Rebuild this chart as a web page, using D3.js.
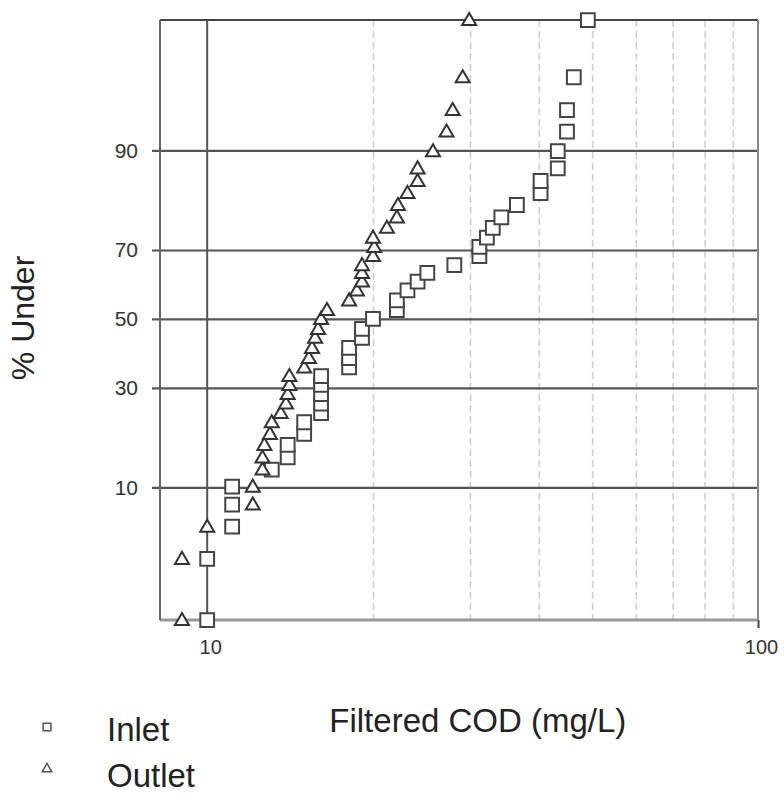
<!DOCTYPE html>
<html>
<head>
<meta charset="utf-8">
<script src="https://cdn.jsdelivr.net/npm/d3@7"></script>
<style>
  body { margin: 0; background: #fff; }
  text { font-family: "Liberation Sans", Arial, sans-serif; fill: #222; }
</style>
</head>
<body>
<div id="chart"></div>
<script>

// % under for each ranked sample (same ranks for both series)
var pctUnder = [1.1, 3.4, 5.7, 7.9, 10.1, 12.6, 14.6, 16.9, 19.1, 21.6,
  23.7, 26.0, 28.4, 30.8, 33.2, 35.6, 38.3, 41.3, 44.3, 47.0,
  50.0, 52.7, 55.6, 58.6, 61.2, 63.7, 65.9, 68.4, 70.8, 73.2,
  75.6, 78.0, 80.7, 83.1, 85.3, 87.4, 89.9, 92.3, 94.4, 96.7, 98.85];

// filtered COD (mg/L), sorted
var inletCOD = [10, 10, 11.1, 11.1, 11.1, 13.1, 14, 14, 15, 15,
  16.1, 16.1, 16.1, 16.1, 16.1, 18.1, 18.1, 18.1, 19.1, 19.1,
  20, 22.1, 22.1, 23.1, 24.1, 25.1, 28.1, 31.2, 31.2, 32.2,
  33, 34.2, 36.5, 40.3, 40.3, 43.3, 43.3, 45, 45, 46.3, 49.1];
var outletCOD = [9, 9, 10, 12.1, 12.1, 12.6, 12.6, 12.7, 13, 13.1,
  13.6, 13.9, 14, 14.1, 14.1, 15, 15.3, 15.5, 15.7, 15.9,
  16.1, 16.5, 18.1, 18.7, 19.1, 19.1, 19.1, 20, 20.1, 20,
  21.2, 22.1, 22.2, 23.1, 24.1, 24.1, 25.7, 27.2, 27.9, 29.1, 29.9];

var yTicks = [10, 30, 50, 70, 90];
var xTicks = [10, 100];
var xMinor = [20, 30, 40, 50, 60, 70, 80, 90];

// set the dimensions and margins of the graph
var margin = {top: 20, right: 26, bottom: 184, left: 160},
    width = 784 - margin.left - margin.right,
    height = 804 - margin.top - margin.bottom;

// inverse normal cdf (Acklam) for the probability axis
function probit(p) {
  var a = [-39.69683028665376, 220.9460984245205, -275.9285104469687, 138.3577518672690, -30.66479806614716, 2.506628277459239];
  var b = [-54.47609879822406, 161.5858368580409, -155.6989798598866, 66.80131188771972, -13.28068155288572];
  var c = [-0.007784894002430293, -0.3223964580411365, -2.400758277161838, -2.549732539343734, 4.374664141464968, 2.938163982698783];
  var d = [0.007784695709041462, 0.3224671290700398, 2.445134137142996, 3.754408661907416];
  var pl = 0.02425, q, r;
  if (p < pl) {
    q = Math.sqrt(-2 * Math.log(p));
    return (((((c[0]*q+c[1])*q+c[2])*q+c[3])*q+c[4])*q+c[5]) / ((((d[0]*q+d[1])*q+d[2])*q+d[3])*q+1);
  }
  if (p > 1 - pl) {
    q = Math.sqrt(-2 * Math.log(1 - p));
    return -(((((c[0]*q+c[1])*q+c[2])*q+c[3])*q+c[4])*q+c[5]) / ((((d[0]*q+d[1])*q+d[2])*q+d[3])*q+1);
  }
  q = p - 0.5; r = q * q;
  return (((((a[0]*r+a[1])*r+a[2])*r+a[3])*r+a[4])*r+a[5])*q / (((((b[0]*r+b[1])*r+b[2])*r+b[3])*r+b[4])*r+1);
}

var svg = d3.select("#chart")
  .append("svg")
    .attr("width", 784)
    .attr("height", 804)
  .append("g")
    .attr("transform", "translate(" + margin.left + "," + margin.top + ")");

// scales: log x, normal-probability y
var x = d3.scaleLog()
  .domain([8.21, 100])
  .range([0, width]);
var z = d3.scaleLinear()
  .domain([-2.29, 2.274])
  .range([height, 0]);
function yPos(p) { return z(probit(p / 100)); }

// light dashed vertical grid
svg.append("g")
  .call(d3.axisBottom(x).tickValues(xMinor).tickSize(height).tickFormat(""))
  .call(g => g.select(".domain").remove())
  .selectAll("line")
    .attr("stroke", "#cfcfcf")
    .attr("stroke-width", 1.6)
    .attr("stroke-dasharray", "7,4");

// horizontal grid + y ticks
var yAxis = svg.append("g")
  .attr("transform", "translate(" + width + ",0)")
  .call(d3.axisLeft(z)
    .tickValues(yTicks.map(p => probit(p / 100)))
    .tickSizeInner(-width - 8)
    .tickSizeOuter(0)
    .tickFormat((d, i) => yTicks[i]));
yAxis.select(".domain").remove();
yAxis.selectAll("line")
  .attr("x1", -width - 8)
  .attr("x2", 0)
  .attr("stroke", "#555")
  .attr("stroke-width", 2.2);
yAxis.selectAll("text")
  .attr("x", -width - 22)
  .style("font-size", "21px")
  .style("fill", "#333");

// x axis ticks and labels
var xAxis = svg.append("g")
  .attr("transform", "translate(0," + height + ")")
  .call(d3.axisBottom(x).tickValues(xTicks).tickSize(8).tickPadding(12).tickFormat(d3.format("d")));
xAxis.select(".domain").remove();
xAxis.selectAll("line").attr("stroke", "#444").attr("stroke-width", 2);
xAxis.selectAll("text")
  .attr("dx", 3)
  .style("font-size", "20px")
  .style("fill", "#333");

// solid vertical line at 10
svg.append("line")
  .attr("x1", x(10)).attr("x2", x(10))
  .attr("y1", 0).attr("y2", height)
  .attr("stroke", "#555")
  .attr("stroke-width", 2);

// plot frame
svg.append("line").attr("x1", 0).attr("x2", width).attr("y1", 0).attr("y2", 0)
  .attr("stroke", "#444").attr("stroke-width", 2);
svg.append("line").attr("x1", 0).attr("x2", width).attr("y1", height).attr("y2", height)
  .attr("stroke", "#999").attr("stroke-width", 3);
svg.append("line").attr("x1", 0).attr("x2", 0).attr("y1", 0).attr("y2", height)
  .attr("stroke", "#666").attr("stroke-width", 2);
svg.append("line").attr("x1", width).attr("x2", width).attr("y1", 0).attr("y2", height)
  .attr("stroke", "#888").attr("stroke-width", 2);

var square = d3.symbol().type(d3.symbolSquare).size(190);
var triangle = d3.symbol().type(d3.symbolTriangle).size(85);

// inlet squares
svg.append("g")
  .selectAll("path")
  .data(inletCOD)
  .enter()
  .append("path")
    .attr("d", square)
    .attr("transform", (d, i) => "translate(" + x(d) + "," + yPos(pctUnder[i]) + ")")
    .attr("fill", "#fff")
    .attr("stroke", "#444")
    .attr("stroke-width", 2);

// outlet triangles
svg.append("g")
  .selectAll("path")
  .data(outletCOD)
  .enter()
  .append("path")
    .attr("d", triangle)
    .attr("transform", (d, i) => "translate(" + x(d) + "," + (yPos(pctUnder[i]) + 1) + ")")
    .attr("fill", "#fff")
    .attr("stroke", "#333")
    .attr("stroke-width", 2);

// axis titles
svg.append("text")
  .attr("x", x(31))
  .attr("y", height + 112)
  .style("text-anchor", "middle")
  .style("font-size", "33px")
  .text("Filtered COD (mg/L)");

svg.append("text")
  .attr("transform", "translate(" + (-126) + "," + (yPos(50) - 1) + ") rotate(-90)")
  .style("text-anchor", "middle")
  .style("font-size", "32px")
  .text("% Under");

// legend
var legend = svg.append("g").attr("transform", "translate(" + (-margin.left) + "," + (-margin.top) + ")");
legend.append("path")
  .attr("d", d3.symbol().type(d3.symbolSquare).size(60))
  .attr("transform", "translate(47,727)")
  .attr("fill", "#fff").attr("stroke", "#555").attr("stroke-width", 1.5);
legend.append("path")
  .attr("d", d3.symbol().type(d3.symbolTriangle).size(40))
  .attr("transform", "translate(47,769)")
  .attr("fill", "#fff").attr("stroke", "#555").attr("stroke-width", 1.5);
legend.append("text").attr("x", 107).attr("y", 741).style("font-size", "33px").text("Inlet");
legend.append("text").attr("x", 107).attr("y", 787).style("font-size", "33px").text("Outlet");

</script>
</body>
</html>
